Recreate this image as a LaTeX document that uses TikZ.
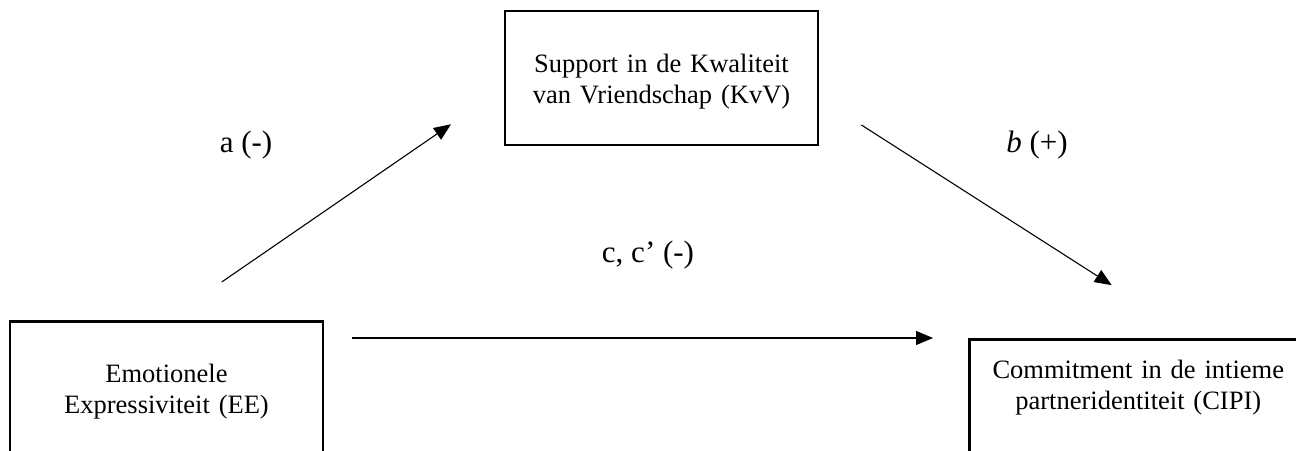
\documentclass[tikz,border=0pt]{standalone}
\usepackage{fontspec}
\setmainfont{Liberation Serif}
\usetikzlibrary{arrows.meta,positioning}

\tikzset{
  box/.style={draw, line width=2.5pt, text width=300pt, align=center,
    inner sep=0pt, text height=18pt, text depth=30pt, minimum width=313pt,
    font=\fontsize{26.5}{31}\selectfont},
  lbl/.style={font=\fontsize{31}{36}\selectfont, inner sep=0pt}
}

\begin{document}
\begin{tikzpicture}[x=1pt, y=-1pt, line width=1.1pt,
    >={Triangle[length=17pt,width=14pt]}]
  \useasboundingbox (0,0) rectangle (1296,450);
  \clip (0,0) rectangle (1296,450);

  \node (KvV) [box, minimum height=134pt] at (661.5,78)
    {Support in de Kwaliteit\\van Vriendschap (KvV)};
  \node (EE) [box, minimum height=135pt, anchor=north] at (166.5,320)
    {Emotionele\\Expressiviteit (EE)};
  \node (CIPI) [box, minimum width=338pt, minimum height=140pt,
    text depth=80pt, anchor=north west] at (968,338)
    {Commitment in de intieme\\partneridentiteit (CIPI)};

  \node (la) [lbl] at (246,145) {a (-)};
  \node (lb) [lbl] at (1037,145) {\textit{b} (+)};
  \node (lc) [lbl] at (648,255) {c, c’ (-)};

  \path[->] (EE.north) edge [shorten <=67pt, shorten >=64pt] ([yshift=-10pt]KvV.west)
            ([yshift=-20pt]KvV.east) edge [shorten <=50pt, shorten >=98pt] ([xshift=56pt]CIPI.north)
            ([yshift=-18pt]EE.north east) edge [shorten <=28pt, shorten >=35pt] (CIPI.north west)
            ;
\end{tikzpicture}
\end{document}
